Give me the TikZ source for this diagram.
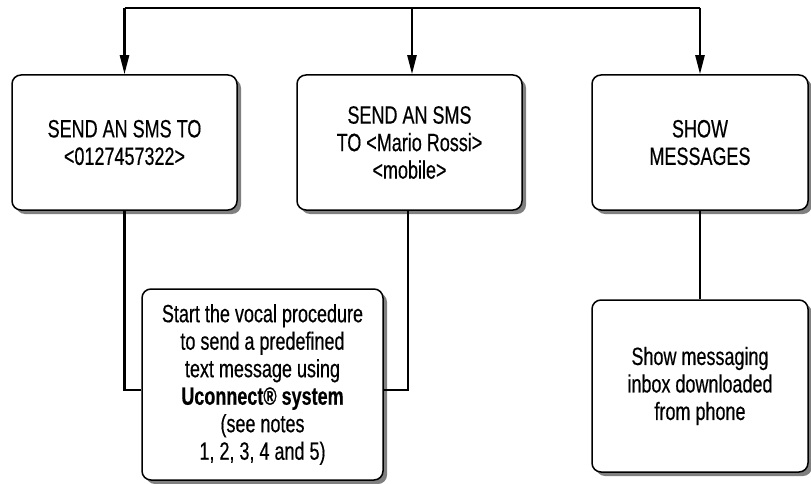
\documentclass[tikz,border=0pt]{standalone}
\usepackage{fontspec}
\setmainfont{Liberation Sans}[FakeStretch=0.72,FakeBold=0.4]
\usetikzlibrary{arrows.meta,shadows}
\tikzset{
  box/.style={draw, line width=1.5pt, rounded corners=9pt, fill=white, align=center,
    inner sep=0pt, font=\fontsize{25}{27.5}\selectfont,
    drop shadow={shadow xshift=4pt, shadow yshift=-4pt, fill=black!50, opacity=1}},
  conn/.style={line width=2.4pt},
  arr/.style={conn, -{Triangle[length=19pt,width=9pt]}}
}
\begin{document}
\begin{tikzpicture}[x=1pt,y=-1pt]
\useasboundingbox (0,0) rectangle (811,484);
\node[box, minimum width=225pt, minimum height=135pt] (b1) at (124.5,142.5) {SEND AN SMS TO\\<0127457322>};
\node[box, minimum width=225pt, minimum height=135pt] (b2) at (409.5,142.5) {SEND AN SMS\\TO <Mario Rossi>\\<mobile>};
\node[box, minimum width=216pt, minimum height=135pt] (b3) at (700,142.5) {SHOW\\MESSAGES};
\node[box, minimum width=241pt, minimum height=191pt] (b4) at (262.5,384.5) {Start the vocal procedure\\to send a predefined\\text message using\\\textbf{Uconnect® system}\\(see notes\\1, 2, 3, 4 and 5)};
\node[box, minimum width=216pt, minimum height=172pt] (b5) at (700,386) {Show messaging\\inbox downloaded\\from phone};
\coordinate (tl) at (124.5,8);
\coordinate (tm) at (412,8);
\coordinate (tr) at (700,8);
\draw[conn] (tl) -- (tr);
\draw[arr] (tl) -- (b1.north);
\draw[arr] (tm) -- (tm |- b2.north);
\draw[arr] (tr) -- (b3.north);
\coordinate (j1) at (124.5,390);
\coordinate (j2) at (408,390);
\draw[conn] (j2 |- b2.south) -- (j2) -- (b4.east |- j2);
\draw[conn] (b1.south) -- (j1) -- (b4.west |- j1);
\draw[conn] (b3.south) -- (b5.north);
\end{tikzpicture}
\end{document}
